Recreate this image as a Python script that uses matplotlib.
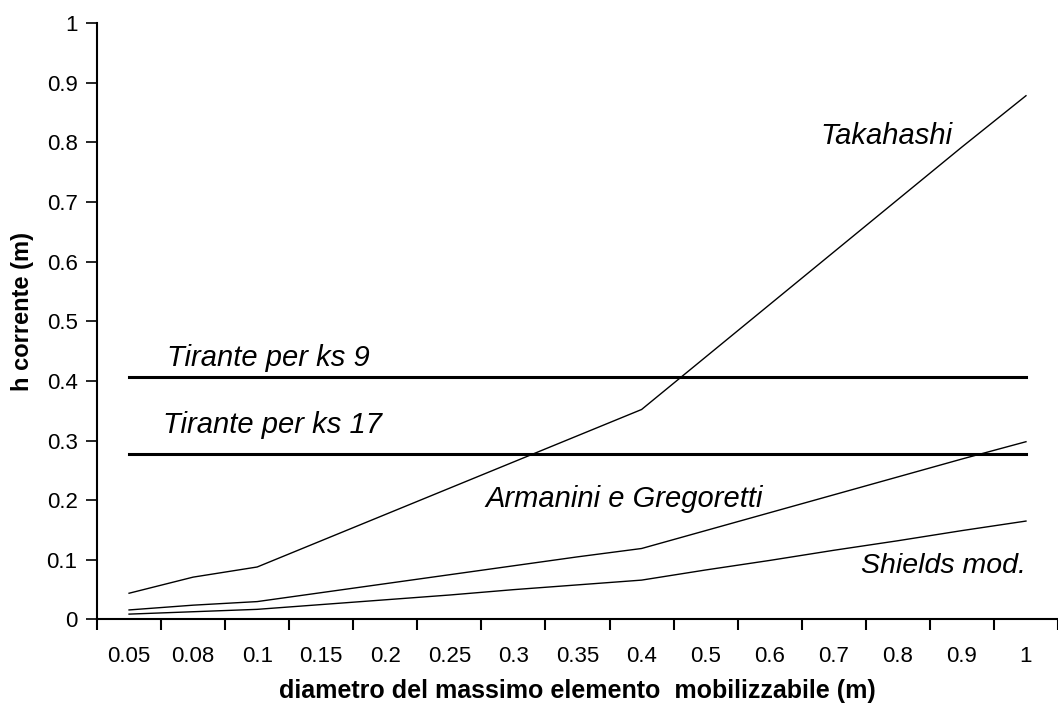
import matplotlib.pyplot as plt
import numpy as np

plt.rcParams['font.family'] = ['Liberation Sans', 'DejaVu Sans']

# diametro (categorie sull'asse x)
diametri = ['0.05', '0.08', '0.1', '0.15', '0.2', '0.25', '0.3', '0.35',
            '0.4', '0.5', '0.6', '0.7', '0.8', '0.9', '1']

takahashi = [0.044, 0.071, 0.088, 0.132, 0.176, 0.220, 0.264, 0.308,
             0.352, 0.440, 0.528, 0.616, 0.704, 0.792, 0.878]
armanini = [0.016, 0.024, 0.030, 0.045, 0.060, 0.075, 0.090, 0.105,
            0.119, 0.149, 0.179, 0.209, 0.239, 0.269, 0.298]
shields = [0.009, 0.013, 0.017, 0.025, 0.033, 0.041, 0.050, 0.058,
           0.066, 0.083, 0.099, 0.116, 0.132, 0.149, 0.165]
tirante_ks9 = 0.407
tirante_ks17 = 0.277

x = np.arange(len(diametri))

fig = plt.figure(figsize=(10.58, 7.17), dpi=100)
ax = fig.add_axes([0.0917, 0.136, 0.9083, 0.832])

ax.plot(x, takahashi, 'k-', lw=1.0)
ax.plot(x, armanini, 'k-', lw=1.0)
ax.plot(x, shields, 'k-', lw=1.0)
ax.plot(x, [tirante_ks9] * len(x), 'k-', lw=2.2)
ax.plot(x, [tirante_ks17] * len(x), 'k-', lw=2.2)

ax.set_xlim(-0.5, len(x) - 0.5)
ax.set_ylim(0, 1)

ax.spines['top'].set_visible(False)
ax.spines['right'].set_visible(False)
ax.spines['left'].set_linewidth(1.5)
ax.spines['bottom'].set_linewidth(1.5)

ax.set_xticks(x)
ax.set_xticklabels(diametri)
ax.set_xticks(np.arange(-0.5, len(x)), minor=True)
ax.tick_params(axis='x', which='major', length=0, pad=19, labelsize=16)
ax.tick_params(axis='x', which='minor', length=8, width=1.5, direction='out')
ax.set_yticks(np.arange(0, 1.01, 0.1))
ax.set_yticklabels(['0', '0.1', '0.2', '0.3', '0.4', '0.5', '0.6', '0.7',
                    '0.8', '0.9', '1'])
ax.tick_params(axis='y', length=8, width=1.2, direction='out', labelsize=16,
               pad=6)

ax.set_xlabel('diametro del massimo elemento  mobilizzabile (m)',
              fontsize=18, fontweight='bold', va='center')
ax.xaxis.set_label_coords(0.5, -0.12)
ax.set_ylabel('h corrente (m)', fontsize=17, fontweight='bold')
ax.yaxis.set_label_coords(-0.066, 0.517)

ax.text(10.79, 0.81, 'Takahashi', style='italic', fontsize=21, va='center')
ax.text(0.59, 0.425, 'Tirante per ks 9', style='italic', fontsize=21)
ax.text(0.53, 0.312, 'Tirante per ks 17', style='italic', fontsize=21)
ax.text(5.57, 0.189, 'Armanini e Gregoretti', style='italic', fontsize=21)
ax.text(11.42, 0.078, 'Shields mod.', style='italic', fontsize=20.5)

fig.savefig('out.png', dpi=100)
